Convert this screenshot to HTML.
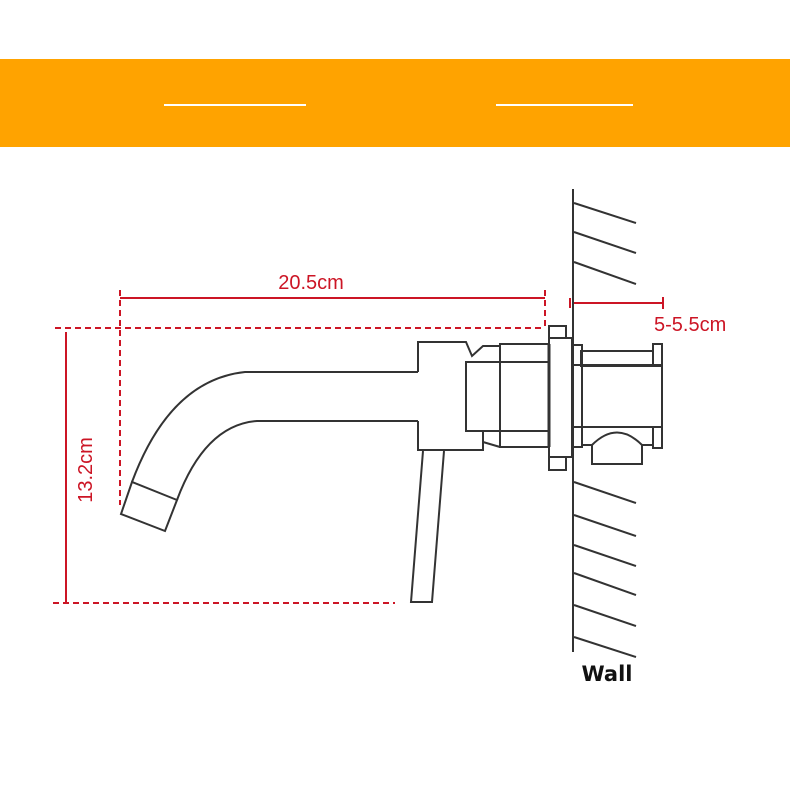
<!DOCTYPE html>
<html><head><meta charset="utf-8"><style>
html,body{margin:0;padding:0;background:#fff;}
svg{display:block;}
</style></head><body>
<svg width="790" height="790" viewBox="0 0 790 790" xmlns="http://www.w3.org/2000/svg">
<rect x="0" y="0" width="790" height="790" fill="#fff"/>
<rect x="0" y="59" width="790" height="88" fill="#FFA300"/>
<line x1="164" y1="105" x2="306" y2="105" stroke="#fff" stroke-width="2"/>
<line x1="496" y1="105" x2="633" y2="105" stroke="#fff" stroke-width="2"/>

<g stroke="#cc1525" fill="none" stroke-width="2">
<line x1="120" y1="298" x2="545" y2="298"/>
<line x1="120" y1="290" x2="120" y2="505" stroke-dasharray="6,4"/>
<line x1="545" y1="290" x2="545" y2="330" stroke-dasharray="6,4"/>
<line x1="55" y1="328" x2="545" y2="328" stroke-dasharray="6,4"/>
<line x1="66" y1="332" x2="66" y2="603"/>
<line x1="53" y1="603" x2="395" y2="603" stroke-dasharray="6,4"/>
<line x1="573" y1="303" x2="663" y2="303"/>
<line x1="663" y1="297" x2="663" y2="309"/>
<line x1="570" y1="298" x2="570" y2="308"/>
</g>
<g fill="#cc1525" font-family="Liberation Sans, sans-serif" font-size="20">
<text x="311" y="289" text-anchor="middle">20.5cm</text>
<text x="654" y="331">5-5.5cm</text>
<text transform="translate(92,470) rotate(-90)" text-anchor="middle">13.2cm</text>
</g>

<g stroke="#333" fill="none" stroke-width="2">
<line x1="573" y1="189" x2="573" y2="652"/>
<line x1="574" y1="203" x2="636" y2="223"/>
<line x1="574" y1="232" x2="636" y2="253"/>
<line x1="574" y1="262" x2="636" y2="284"/>
<line x1="574" y1="482" x2="636" y2="503"/>
<line x1="574" y1="515" x2="636" y2="536"/>
<line x1="574" y1="545" x2="636" y2="566"/>
<line x1="574" y1="573" x2="636" y2="595"/>
<line x1="574" y1="605" x2="636" y2="626"/>
<line x1="574" y1="637" x2="636" y2="657"/>

<path d="M418 372 L245 372 Q170 380 132 482"/>
<path d="M418 421 L257 421 Q205 425 177 500"/>
<path d="M132 482 L121 514 L165 531 L177 500 Z"/>
<path d="M418 372 V342 H466 L472 356 L483 346 H500"/>
<path d="M418 421 V450 H483 V431"/>
<path d="M483 442 L500 447"/>
<rect x="466" y="362" width="34" height="69"/>
<rect x="500" y="344" width="49" height="103"/>
<line x1="500" y1="362" x2="549" y2="362"/>
<line x1="500" y1="431" x2="549" y2="431"/>
<line x1="549" y1="344" x2="549" y2="447" stroke-width="3"/>
<rect x="549" y="338" width="23" height="119"/>
<rect x="549" y="326" width="17" height="12"/>
<rect x="549" y="457" width="17" height="13"/>
<path d="M423 451 L411 602 H432 L444 451"/>
<rect x="573" y="345" width="9" height="20"/>
<rect x="573" y="427" width="9" height="20"/>
<rect x="582" y="365" width="80" height="62"/>
<rect x="581" y="351" width="72" height="15"/>
<rect x="653" y="344" width="9" height="22"/>
<rect x="653" y="427" width="9" height="21"/>
<path d="M582 427 V445 H592 M642 445 H653"/>
<path d="M592 445 Q617 420 642 445 V464 H592 Z"/>
</g>
<text x="607" y="681" text-anchor="middle" font-family="DejaVu Sans, sans-serif" font-weight="bold" font-size="21" fill="#111">Wall</text>
</svg>
</body></html>
